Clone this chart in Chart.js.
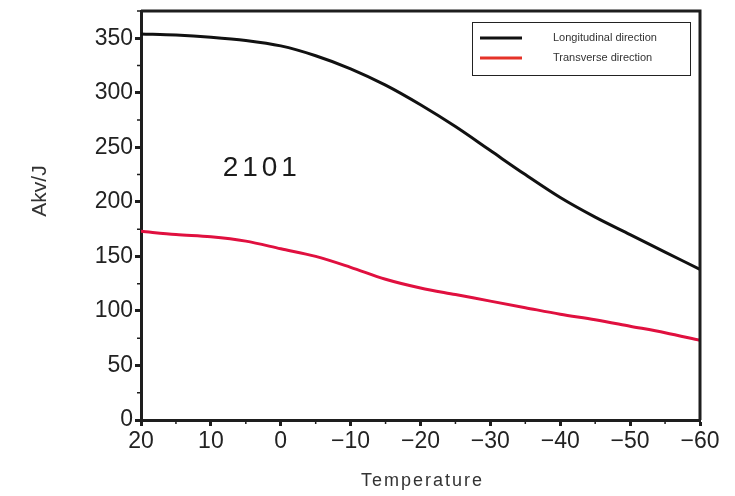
<!DOCTYPE html>
<html>
<head>
<meta charset="utf-8">
<script src="https://cdn.jsdelivr.net/npm/chart.js@4/dist/chart.umd.min.js"></script>
<style>
  html, body { margin: 0; padding: 0; background: #fff; }
  #wrap { width: 735px; height: 496px; position: relative; }
</style>
</head>
<body>
<div id="wrap"><canvas id="c"></canvas></div>
<script>
// Data
const temperatures = [20, 15, 10, 5, 0, -5, -10, -15, -20, -25, -30, -35, -40, -45, -50, -55, -60];
const longitudinal = [354, 353, 351, 348, 343, 334, 322, 307, 289, 269, 247, 225, 204, 186, 170, 154, 138];
const transverse   = [173, 170, 168, 164, 157, 150, 140, 129, 121, 115, 109, 103, 97, 92, 86, 80, 73];
const seriesNames = ['Longitudinal direction', 'Transverse direction'];
const xTicks = [20, 10, 0, -10, -20, -30, -40, -50, -60];
const yTicks = [0, 50, 100, 150, 200, 250, 300, 350];
const xTitle = 'Temperature';
const yTitle = 'Akv/J';
const annotationText = '2101';

const toPts = (vals) => temperatures.map((t, i) => ({ x: t, y: vals[i] }));
const FONT = "'Liberation Sans', Arial, Helvetica, sans-serif";
const AXIS = '#1e1e1e';

const framePlugin = {
  id: 'frame',
  afterDraw(chart) {
    const { ctx, chartArea: a, scales } = chart;
    ctx.save();
    ctx.strokeStyle = AXIS;
    ctx.lineWidth = 3;
    ctx.beginPath();
    ctx.moveTo(a.left, a.top);
    ctx.lineTo(a.right, a.top);
    ctx.lineTo(a.right, a.bottom);
    ctx.stroke();
    // minor ticks
    ctx.lineWidth = 1.5;
    ctx.beginPath();
    for (let v = 15; v >= -55; v -= 10) {
      const px = scales.x.getPixelForValue(v);
      ctx.moveTo(px, a.bottom);
      ctx.lineTo(px, a.bottom + 4);
    }
    for (let v = 25; v <= 375; v += 50) {
      const py = scales.y.getPixelForValue(v);
      if (py < a.top) continue;
      ctx.moveTo(a.left, py);
      ctx.lineTo(a.left - 4, py);
    }
    ctx.stroke();
    // annotation
    ctx.fillStyle = '#1a1a1a';
    ctx.font = '28px ' + FONT;
    ctx.letterSpacing = '4px';
    ctx.textAlign = 'center';
    ctx.textBaseline = 'middle';
    ctx.fillText(annotationText, scales.x.getPixelForValue(3) + 2, scales.y.getPixelForValue(231));
    // axis titles
    ctx.fillStyle = '#333';
    ctx.font = '18px ' + FONT;
    ctx.letterSpacing = '2px';
    ctx.fillText(xTitle, (a.left + a.right) / 2 + 2, 481);
    ctx.letterSpacing = '0px';
    ctx.font = '21px ' + FONT;
    ctx.save();
    ctx.translate(40, 191);
    ctx.rotate(-Math.PI / 2);
    ctx.fillText(yTitle, 0, 0);
    ctx.restore();
    // legend box
    const lx = a.right - 228, ly = a.top + 11, lw = 218, lh = 53;
    ctx.lineWidth = 1;
    ctx.strokeStyle = '#222';
    ctx.strokeRect(lx + 0.5, ly + 0.5, lw, lh);
    const colors = ['#111111', '#e53228'];
    ctx.font = '11px ' + FONT;
    ctx.textAlign = 'left';
    chart.data.datasets.forEach((ds, i) => {
      const y = ly + 16 + i * 20;
      ctx.strokeStyle = colors[i];
      ctx.lineWidth = 3;
      ctx.beginPath();
      ctx.moveTo(lx + 8, y);
      ctx.lineTo(lx + 50, y);
      ctx.stroke();
      ctx.fillStyle = '#333';
      ctx.fillText(ds.label, lx + 81, y);
    });
    ctx.restore();
  }
};

new Chart(document.getElementById('c'), {
  type: 'line',
  data: {
    datasets: [
      { label: seriesNames[0], data: toPts(longitudinal), borderColor: '#111111', borderWidth: 3, pointRadius: 0, cubicInterpolationMode: 'monotone', fill: false },
      { label: seriesNames[1], data: toPts(transverse), borderColor: '#e0103f', borderWidth: 3, pointRadius: 0, cubicInterpolationMode: 'monotone', fill: false }
    ]
  },
  options: {
    responsive: true,
    maintainAspectRatio: false,
    animation: false,
    layout: { padding: { top: 11, right: 35, left: 0, bottom: 0 } },
    plugins: { legend: { display: false }, tooltip: { enabled: false } },
    scales: {
      x: {
        type: 'linear',
        reverse: true,
        min: -60,
        max: 20,
        afterBuildTicks: (s) => { s.ticks = xTicks.map(v => ({ value: v })); },
        afterFit: (s) => { s.height = 76; s.paddingLeft = 0; s.paddingRight = 0; },
        ticks: {
          color: '#222',
          font: { family: FONT, size: 23 },
          padding: 2,
          maxRotation: 0,
          callback: (v) => (v < 0 ? '\u2212' + Math.abs(v) : String(v))
        },
        grid: { drawOnChartArea: false, drawTicks: true, tickLength: 6, tickColor: AXIS, tickWidth: 3 },
        border: { display: true, color: AXIS, width: 3 }
      },
      y: {
        type: 'linear',
        min: 0,
        max: 375,
        afterBuildTicks: (s) => { s.ticks = yTicks.map(v => ({ value: v })); },
        afterFit: (s) => { s.width = 141; s.paddingTop = 0; s.paddingBottom = 0; },
        ticks: {
          color: '#222',
          font: { family: FONT, size: 23 },
          padding: 2
        },
        grid: { drawOnChartArea: false, drawTicks: true, tickLength: 6, tickColor: AXIS, tickWidth: 3 },
        border: { display: true, color: AXIS, width: 3 }
      }
    }
  },
  plugins: [framePlugin]
});
</script>
</body>
</html>
